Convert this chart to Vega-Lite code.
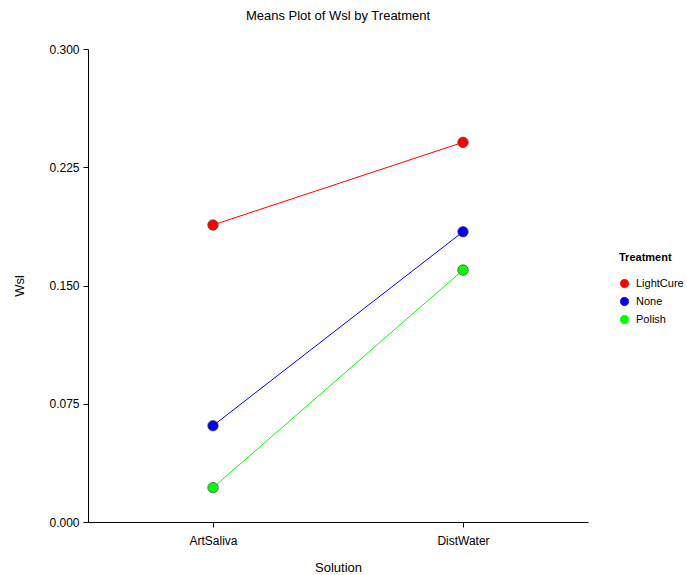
{
  "$schema": "https://vega.github.io/schema/vega-lite/v6.json",
  "autosize": "none",
  "width": 500,
  "height": 473,
  "padding": {"left": 88, "top": 49, "right": 99, "bottom": 53},
  "background": "white",
  "title": {"text": "Means Plot of Wsl by Treatment", "font": "Liberation Sans", "fontSize": 13, "fontWeight": "normal", "color": "#000", "offset": 20, "anchor": "middle"},
  "config": {
    "view": {"stroke": null},
    "axis": {"grid": false, "domainColor": "#000", "tickColor": "#000", "labelFont": "Liberation Sans", "titleFont": "Liberation Sans", "labelFontSize": 12, "titleFontSize": 13, "titleFontWeight": "normal", "labelColor": "#000", "titleColor": "#000", "tickSize": 5},
    "legend": {"titleFont": "Liberation Sans", "labelFont": "Liberation Sans", "titleFontSize": 11, "labelFontSize": 11, "titleFontWeight": "bold"}
  },
  "data": {"values": [
    {"Solution": "ArtSaliva", "Treatment": "LightCure", "Wsl": 0.1884},
    {"Solution": "DistWater", "Treatment": "LightCure", "Wsl": 0.2408},
    {"Solution": "ArtSaliva", "Treatment": "None", "Wsl": 0.0611},
    {"Solution": "DistWater", "Treatment": "None", "Wsl": 0.1841},
    {"Solution": "ArtSaliva", "Treatment": "Polish", "Wsl": 0.0218},
    {"Solution": "DistWater", "Treatment": "Polish", "Wsl": 0.1598}
  ]},
  "encoding": {
    "x": {"field": "Solution", "type": "nominal", "scale": {"type": "point", "padding": 0.5}, "axis": {"labelAngle": 0, "title": "Solution", "titlePadding": 15, "labelPadding": 8}},
    "y": {"field": "Wsl", "type": "quantitative", "scale": {"domain": [0, 0.3], "nice": false}, "axis": {"values": [0, 0.075, 0.15, 0.225, 0.3], "format": ".3f", "title": "Wsl", "titlePadding": 22, "labelPadding": 4}},
    "color": {"field": "Treatment", "type": "nominal", "scale": {"domain": ["LightCure", "None", "Polish"], "range": ["#FF0000", "#0000FF", "#00FF00"]},
      "legend": {"orient": "none", "legendX": 531, "legendY": 203, "title": "Treatment", "symbolType": "circle", "symbolSize": 70, "symbolStrokeColor": "#444", "symbolStrokeWidth": 0.7, "rowPadding": 5, "titlePadding": 15, "labelOffset": 6, "symbolOpacity": 1}}
  },
  "layer": [
    {"mark": {"type": "line", "strokeWidth": 1}, "encoding": {"detail": {"field": "Treatment"}}},
    {"mark": {"type": "point", "filled": true, "shape": "circle", "size": 110, "opacity": 1, "stroke": "#444", "strokeWidth": 0.7}}
  ]
}
